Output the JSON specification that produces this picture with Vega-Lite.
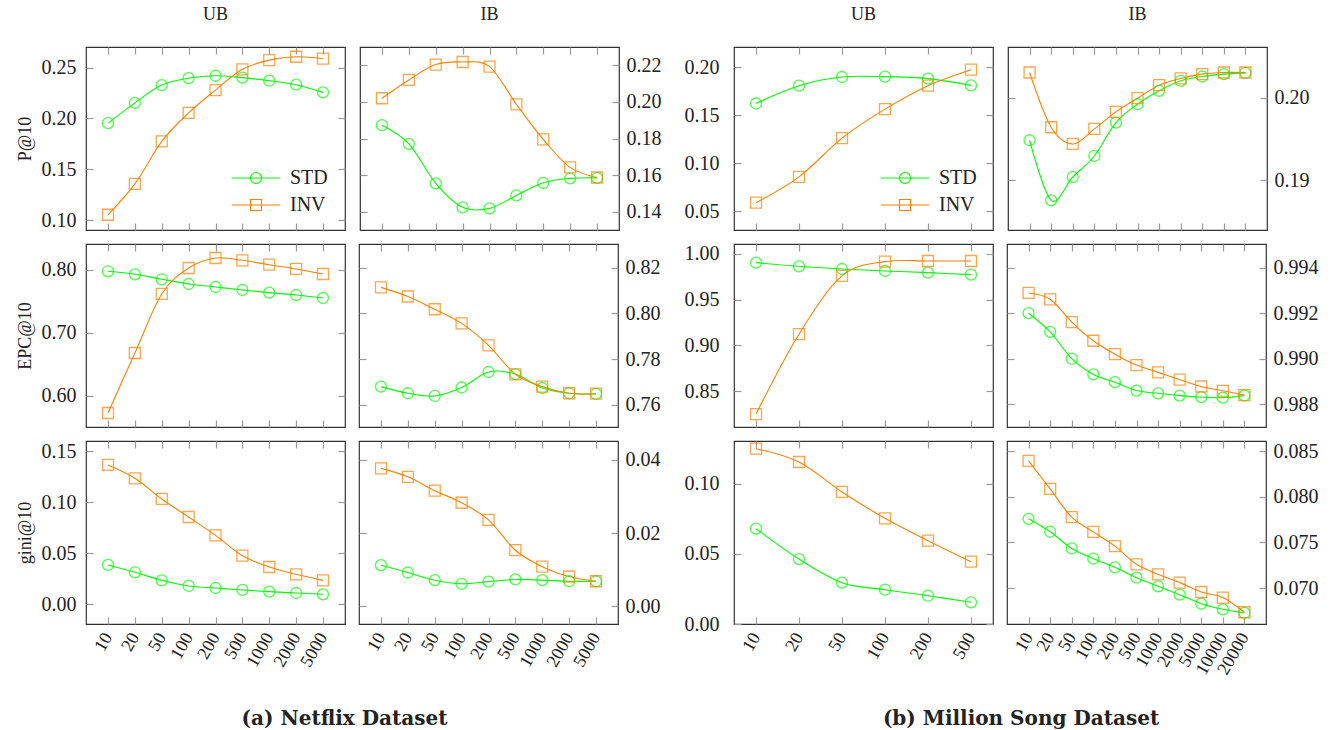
{
"$schema": "https://vega.github.io/schema/vega-lite/v6.json",
"padding": {"left": 15, "top": 5, "right": 5, "bottom": 5},
"config": {
 "font": "Liberation Serif",
 "view": {"stroke": "#333", "strokeWidth": 1.2},
 "axis": {"domain": false, "grid": false, "tickColor": "#9a9a9a", "tickWidth": 1.2, "tickSize": -7, "labelFont": "Liberation Serif", "labelFontSize": 20, "labelColor": "#222", "titleFont": "Liberation Serif", "titleFontSize": 18, "titleFontWeight": "normal", "titleColor": "#222", "titlePadding": 7},
 "axisLeft": {"labelPadding": 17},
 "axisRight": {"labelPadding": 14},
 "axisBottom": {"labelPadding": 17, "labelFontSize": 18},
 "title": {"font": "Liberation Serif", "fontSize": 18, "fontWeight": "normal", "color": "#222", "offset": 22},
 "legend": {"labelFont": "Liberation Serif", "labelFontSize": 20, "labelColor": "#222", "symbolSize": 121, "symbolStrokeWidth": 1.2, "symbolOpacity": 1, "labelOffset": 24, "rowPadding": 7, "padding": 0}
},
"datasets": {
 "nf_ub_p": [
  {"k":"10","s":"STD","v":0.1954},{"k":"20","s":"STD","v":0.2154},{"k":"50","s":"STD","v":0.2329},{"k":"100","s":"STD","v":0.2398},{"k":"200","s":"STD","v":0.2421},{"k":"500","s":"STD","v":0.2402},{"k":"1000","s":"STD","v":0.2372},{"k":"2000","s":"STD","v":0.2333},{"k":"5000","s":"STD","v":0.2257},
  {"k":"10","s":"INV","v":0.1052},{"k":"20","s":"INV","v":0.1356},{"k":"50","s":"INV","v":0.1774},{"k":"100","s":"INV","v":0.2056},{"k":"200","s":"INV","v":0.228},{"k":"500","s":"INV","v":0.2484},{"k":"1000","s":"INV","v":0.2575},{"k":"2000","s":"INV","v":0.2608},{"k":"5000","s":"INV","v":0.2589}],
 "nf_ib_p": [
  {"k":"10","s":"STD","v":0.1873},{"k":"20","s":"STD","v":0.1771},{"k":"50","s":"STD","v":0.1555},{"k":"100","s":"STD","v":0.1424},{"k":"200","s":"STD","v":0.1418},{"k":"500","s":"STD","v":0.1489},{"k":"1000","s":"STD","v":0.1558},{"k":"2000","s":"STD","v":0.1582},{"k":"5000","s":"STD","v":0.1585},
  {"k":"10","s":"INV","v":0.202},{"k":"20","s":"INV","v":0.212},{"k":"50","s":"INV","v":0.2204},{"k":"100","s":"INV","v":0.2218},{"k":"200","s":"INV","v":0.2193},{"k":"500","s":"INV","v":0.1987},{"k":"1000","s":"INV","v":0.1795},{"k":"2000","s":"INV","v":0.1642},{"k":"5000","s":"INV","v":0.1587}],
 "ms_ub_p": [
  {"k":"10","s":"STD","v":0.1621},{"k":"20","s":"STD","v":0.1806},{"k":"50","s":"STD","v":0.1896},{"k":"100","s":"STD","v":0.19},{"k":"200","s":"STD","v":0.1879},{"k":"500","s":"STD","v":0.1809},
  {"k":"10","s":"INV","v":0.059},{"k":"20","s":"INV","v":0.0858},{"k":"50","s":"INV","v":0.1261},{"k":"100","s":"INV","v":0.1562},{"k":"200","s":"INV","v":0.1806},{"k":"500","s":"INV","v":0.1972}],
 "ms_ib_p": [
  {"k":"10","s":"STD","v":0.19484},{"k":"20","s":"STD","v":0.18758},{"k":"50","s":"STD","v":0.1904},{"k":"100","s":"STD","v":0.19294},{"k":"200","s":"STD","v":0.19697},{"k":"500","s":"STD","v":0.19919},{"k":"1000","s":"STD","v":0.20081},{"k":"2000","s":"STD","v":0.20202},{"k":"5000","s":"STD","v":0.20254},{"k":"10000","s":"STD","v":0.20282},{"k":"20000","s":"STD","v":0.20298},
  {"k":"10","s":"INV","v":0.20302},{"k":"20","s":"INV","v":0.19641},{"k":"50","s":"INV","v":0.19439},{"k":"100","s":"INV","v":0.19621},{"k":"200","s":"INV","v":0.19827},{"k":"500","s":"INV","v":0.19992},{"k":"1000","s":"INV","v":0.20149},{"k":"2000","s":"INV","v":0.2023},{"k":"5000","s":"INV","v":0.20282},{"k":"10000","s":"INV","v":0.20302},{"k":"20000","s":"INV","v":0.20302}],
 "nf_ub_e": [
  {"k":"10","s":"STD","v":0.7974},{"k":"20","s":"STD","v":0.7926},{"k":"50","s":"STD","v":0.7847},{"k":"100","s":"STD","v":0.7772},{"k":"200","s":"STD","v":0.7725},{"k":"500","s":"STD","v":0.7677},{"k":"1000","s":"STD","v":0.7635},{"k":"2000","s":"STD","v":0.7598},{"k":"5000","s":"STD","v":0.755},
  {"k":"10","s":"INV","v":0.5725},{"k":"20","s":"INV","v":0.6677},{"k":"50","s":"INV","v":0.7614},{"k":"100","s":"INV","v":0.8026},{"k":"200","s":"INV","v":0.8185},{"k":"500","s":"INV","v":0.8148},{"k":"1000","s":"INV","v":0.8079},{"k":"2000","s":"INV","v":0.8011},{"k":"5000","s":"INV","v":0.7931}],
 "nf_ib_e": [
  {"k":"10","s":"STD","v":0.7679},{"k":"20","s":"STD","v":0.765},{"k":"50","s":"STD","v":0.7638},{"k":"100","s":"STD","v":0.7675},{"k":"200","s":"STD","v":0.7743},{"k":"500","s":"STD","v":0.7734},{"k":"1000","s":"STD","v":0.7673},{"k":"2000","s":"STD","v":0.765},{"k":"5000","s":"STD","v":0.7647},
  {"k":"10","s":"INV","v":0.8114},{"k":"20","s":"INV","v":0.8074},{"k":"50","s":"INV","v":0.8018},{"k":"100","s":"INV","v":0.7956},{"k":"200","s":"INV","v":0.786},{"k":"500","s":"INV","v":0.7733},{"k":"1000","s":"INV","v":0.7679},{"k":"2000","s":"INV","v":0.765},{"k":"5000","s":"INV","v":0.7648}],
 "ms_ub_e": [
  {"k":"10","s":"STD","v":0.9902},{"k":"20","s":"STD","v":0.9862},{"k":"50","s":"STD","v":0.9833},{"k":"100","s":"STD","v":0.9811},{"k":"200","s":"STD","v":0.9793},{"k":"500","s":"STD","v":0.9771},
  {"k":"10","s":"INV","v":0.8253},{"k":"20","s":"INV","v":0.9123},{"k":"50","s":"INV","v":0.9757},{"k":"100","s":"INV","v":0.9913},{"k":"200","s":"INV","v":0.992},{"k":"500","s":"INV","v":0.992}],
 "ms_ib_e": [
  {"k":"10","s":"STD","v":0.992},{"k":"20","s":"STD","v":0.99118},{"k":"50","s":"STD","v":0.99},{"k":"100","s":"STD","v":0.98931},{"k":"200","s":"STD","v":0.98897},{"k":"500","s":"STD","v":0.9886},{"k":"1000","s":"STD","v":0.98848},{"k":"2000","s":"STD","v":0.98838},{"k":"5000","s":"STD","v":0.98831},{"k":"10000","s":"STD","v":0.98829},{"k":"20000","s":"STD","v":0.98838},
  {"k":"10","s":"INV","v":0.99289},{"k":"20","s":"INV","v":0.99261},{"k":"50","s":"INV","v":0.99161},{"k":"100","s":"INV","v":0.99079},{"k":"200","s":"INV","v":0.9902},{"k":"500","s":"INV","v":0.98972},{"k":"1000","s":"INV","v":0.9894},{"k":"2000","s":"INV","v":0.98908},{"k":"5000","s":"INV","v":0.98878},{"k":"10000","s":"INV","v":0.98859},{"k":"20000","s":"INV","v":0.9884}],
 "nf_ub_g": [
  {"k":"10","s":"STD","v":0.0386},{"k":"20","s":"STD","v":0.0314},{"k":"50","s":"STD","v":0.0235},{"k":"100","s":"STD","v":0.018},{"k":"200","s":"STD","v":0.016},{"k":"500","s":"STD","v":0.0141},{"k":"1000","s":"STD","v":0.0124},{"k":"2000","s":"STD","v":0.0111},{"k":"5000","s":"STD","v":0.0098},
  {"k":"10","s":"INV","v":0.1366},{"k":"20","s":"INV","v":0.1235},{"k":"50","s":"INV","v":0.1033},{"k":"100","s":"INV","v":0.0856},{"k":"200","s":"INV","v":0.0676},{"k":"500","s":"INV","v":0.0477},{"k":"1000","s":"INV","v":0.0366},{"k":"2000","s":"INV","v":0.0294},{"k":"5000","s":"INV","v":0.0235}],
 "nf_ib_g": [
  {"k":"10","s":"STD","v":0.0112},{"k":"20","s":"STD","v":0.0092},{"k":"50","s":"STD","v":0.0071},{"k":"100","s":"STD","v":0.0061},{"k":"200","s":"STD","v":0.0067},{"k":"500","s":"STD","v":0.0073},{"k":"1000","s":"STD","v":0.0071},{"k":"2000","s":"STD","v":0.0068},{"k":"5000","s":"STD","v":0.0068},
  {"k":"10","s":"INV","v":0.0377},{"k":"20","s":"INV","v":0.0354},{"k":"50","s":"INV","v":0.0316},{"k":"100","s":"INV","v":0.0283},{"k":"200","s":"INV","v":0.0236},{"k":"500","s":"INV","v":0.0153},{"k":"1000","s":"INV","v":0.0108},{"k":"2000","s":"INV","v":0.0081},{"k":"5000","s":"INV","v":0.0068}],
 "ms_ub_g": [
  {"k":"10","s":"STD","v":0.0681},{"k":"20","s":"STD","v":0.0464},{"k":"50","s":"STD","v":0.0295},{"k":"100","s":"STD","v":0.0245},{"k":"200","s":"STD","v":0.0202},{"k":"500","s":"STD","v":0.0155},
  {"k":"10","s":"INV","v":0.1252},{"k":"20","s":"INV","v":0.1157},{"k":"50","s":"INV","v":0.0943},{"k":"100","s":"INV","v":0.0755},{"k":"200","s":"INV","v":0.0595},{"k":"500","s":"INV","v":0.0445}],
 "ms_ib_g": [
  {"k":"10","s":"STD","v":0.07759},{"k":"20","s":"STD","v":0.07617},{"k":"50","s":"STD","v":0.07434},{"k":"100","s":"STD","v":0.07322},{"k":"200","s":"STD","v":0.07227},{"k":"500","s":"STD","v":0.07113},{"k":"1000","s":"STD","v":0.07018},{"k":"2000","s":"STD","v":0.06927},{"k":"5000","s":"STD","v":0.06828},{"k":"10000","s":"STD","v":0.06766},{"k":"20000","s":"STD","v":0.06726},
  {"k":"10","s":"INV","v":0.08394},{"k":"20","s":"INV","v":0.08088},{"k":"50","s":"INV","v":0.07777},{"k":"100","s":"INV","v":0.07616},{"k":"200","s":"INV","v":0.0746},{"k":"500","s":"INV","v":0.0726},{"k":"1000","s":"INV","v":0.0715},{"k":"2000","s":"INV","v":0.07059},{"k":"5000","s":"INV","v":0.06956},{"k":"10000","s":"INV","v":0.06895},{"k":"20000","s":"INV","v":0.06734}]
},
"spacing": 21,
"resolve": {"scale": {"x": "independent", "y": "independent", "color": "independent", "shape": "independent"}, "legend": {"color": "independent", "shape": "independent"}},
"hconcat": [
 {
  "title": {"text": "(a) Netflix Dataset", "orient": "bottom", "anchor": "middle", "fontWeight": "bold", "font": "DejaVu Serif", "fontSize": 20, "offset": 39, "dx": 6},
  "spacing": 10,
  "resolve": {"scale": {"x": "independent", "y": "independent", "color": "independent", "shape": "independent"}, "legend": {"color": "independent", "shape": "independent"}},
  "vconcat": [
   {"spacing": 10,
    "resolve": {"scale": {"x": "independent", "y": "independent", "color": "independent", "shape": "independent"}, "legend": {"color": "independent", "shape": "independent"}},
    "hconcat": [
     {"width": 259, "height": 183, "title": "UB", "data": {"name": "nf_ub_p"},
      "resolve": {"scale": {"x": "independent", "y": "independent", "shape": "independent"}, "axis": {"x": "independent", "y": "independent"}, "legend": {"color": "independent", "shape": "independent"}},
      "layer": [
       {"mark": {"type": "line", "interpolate": "cardinal", "strokeWidth": 1.1},
        "encoding": {
         "x": {"field": "k", "type": "ordinal", "scale": {"type": "point", "domain": ["10","20","50","100","200","500","1000","2000","5000"], "padding": 0.8186}, "axis": {"orient": "bottom", "labels": false, "title": null}},
         "y": {"field": "v", "type": "quantitative", "scale": {"domain": [0.0902, 0.2704], "nice": false, "zero": false}, "axis": {"orient": "left", "values": [0.1, 0.15, 0.2, 0.25], "format": ".2f", "title": "P@10"}},
         "color": {"field": "s", "type": "nominal", "scale": {"domain": ["STD","INV"], "range": ["#00ff00","#ff8000"]}, "legend": null}}},
       {"mark": {"type": "point", "filled": false, "size": 121, "strokeWidth": 1.3},
        "encoding": {
         "x": {"field": "k", "type": "ordinal", "scale": {"type": "point", "domain": ["10","20","50","100","200","500","1000","2000","5000"], "padding": 0.8186}, "axis": null},
         "y": {"field": "v", "type": "quantitative", "scale": {"domain": [0.0902, 0.2704], "nice": false, "zero": false}, "axis": null},
         "color": {"field": "s", "type": "nominal", "scale": {"domain": ["STD","INV"], "range": ["#00ff00","#ff8000"]}, "legend": null},
         "shape": {"field": "s", "type": "nominal", "scale": {"domain": ["STD","INV"], "range": ["circle","square"]}, "legend": null}}},
       {"mark": {"type": "point", "opacity": 0},
        "encoding": {
         "x": {"field": "k", "type": "ordinal", "scale": {"type": "point", "domain": ["10","20","50","100","200","500","1000","2000","5000"], "padding": 0.8186}, "axis": {"orient": "top", "labels": false, "title": null}},
         "y": {"field": "v", "type": "quantitative", "scale": {"domain": [0.0902, 0.2704], "nice": false, "zero": false}, "axis": {"orient": "right", "labels": false, "values": [0.1, 0.15, 0.2, 0.25], "title": null}}}},
       {"mark": {"type": "point", "filled": false, "opacity": 0, "size": 121, "strokeWidth": 1.2},
        "encoding": {
         "x": {"field": "k", "type": "ordinal", "scale": {"type": "point", "domain": ["10","20","50","100","200","500","1000","2000","5000"], "padding": 0.8186}, "axis": null},
         "y": {"field": "v", "type": "quantitative", "scale": {"domain": [0.0902, 0.2704], "nice": false, "zero": false}, "axis": null},
         "color": {"field": "s", "type": "nominal", "scale": {"domain": ["STD","INV"], "range": ["#00ff00","#ff8000"]}, "legend": {"title": null, "orient": "none", "legendX": 160, "legendY": 121, "symbolOpacity": 1}},
         "shape": {"field": "s", "type": "nominal", "scale": {"domain": ["STD","INV"], "range": ["M-4.4,0L4.4,0M-1,0A1,1,0,1,0,1,0A1,1,0,1,0,-1,0", "M-4.4,0L4.4,0M-1,-1L1,-1L1,1L-1,1Z"]}, "legend": {"title": null, "orient": "none", "legendX": 160, "legendY": 121, "symbolOpacity": 1}}}}
      ]},
     {"width": 259, "height": 183, "title": "IB", "data": {"name": "nf_ib_p"},
      "resolve": {"scale": {"x": "independent", "y": "independent"}, "axis": {"x": "independent", "y": "independent"}},
      "layer": [
       {"mark": {"type": "line", "interpolate": "cardinal", "strokeWidth": 1.1},
        "encoding": {
         "x": {"field": "k", "type": "ordinal", "scale": {"type": "point", "domain": ["10","20","50","100","200","500","1000","2000","5000"], "padding": 0.8186}, "axis": {"orient": "bottom", "labels": false, "title": null}},
         "y": {"field": "v", "type": "quantitative", "scale": {"domain": [0.13, 0.23], "nice": false, "zero": false}, "axis": {"orient": "right", "values": [0.14, 0.16, 0.18, 0.2, 0.22], "format": ".2f", "title": null}},
         "color": {"field": "s", "type": "nominal", "scale": {"domain": ["STD","INV"], "range": ["#00ff00","#ff8000"]}, "legend": null}}},
       {"mark": {"type": "point", "filled": false, "size": 121, "strokeWidth": 1.3},
        "encoding": {
         "x": {"field": "k", "type": "ordinal", "scale": {"type": "point", "domain": ["10","20","50","100","200","500","1000","2000","5000"], "padding": 0.8186}, "axis": null},
         "y": {"field": "v", "type": "quantitative", "scale": {"domain": [0.13, 0.23], "nice": false, "zero": false}, "axis": null},
         "color": {"field": "s", "type": "nominal", "scale": {"domain": ["STD","INV"], "range": ["#00ff00","#ff8000"]}, "legend": null},
         "shape": {"field": "s", "type": "nominal", "scale": {"domain": ["STD","INV"], "range": ["circle","square"]}, "legend": null}}},
       {"mark": {"type": "point", "opacity": 0},
        "encoding": {
         "x": {"field": "k", "type": "ordinal", "scale": {"type": "point", "domain": ["10","20","50","100","200","500","1000","2000","5000"], "padding": 0.8186}, "axis": {"orient": "top", "labels": false, "title": null}},
         "y": {"field": "v", "type": "quantitative", "scale": {"domain": [0.13, 0.23], "nice": false, "zero": false}, "axis": {"orient": "left", "labels": false, "values": [0.14, 0.16, 0.18, 0.2, 0.22], "title": null}}}}
      ]}
    ]},
   {"spacing": 10,
    "resolve": {"scale": {"x": "independent", "y": "independent", "color": "independent", "shape": "independent"}, "legend": {"color": "independent", "shape": "independent"}},
    "hconcat": [
     {"width": 259, "height": 183, "data": {"name": "nf_ub_e"},
      "resolve": {"scale": {"x": "independent", "y": "independent"}, "axis": {"x": "independent", "y": "independent"}},
      "layer": [
       {"mark": {"type": "line", "interpolate": "cardinal", "strokeWidth": 1.1},
        "encoding": {
         "x": {"field": "k", "type": "ordinal", "scale": {"type": "point", "domain": ["10","20","50","100","200","500","1000","2000","5000"], "padding": 0.8186}, "axis": {"orient": "bottom", "labels": false, "title": null}},
         "y": {"field": "v", "type": "quantitative", "scale": {"domain": [0.5503, 0.8407], "nice": false, "zero": false}, "axis": {"orient": "left", "values": [0.6, 0.7, 0.8], "format": ".2f", "title": "EPC@10"}},
         "color": {"field": "s", "type": "nominal", "scale": {"domain": ["STD","INV"], "range": ["#00ff00","#ff8000"]}, "legend": null}}},
       {"mark": {"type": "point", "filled": false, "size": 121, "strokeWidth": 1.3},
        "encoding": {
         "x": {"field": "k", "type": "ordinal", "scale": {"type": "point", "domain": ["10","20","50","100","200","500","1000","2000","5000"], "padding": 0.8186}, "axis": null},
         "y": {"field": "v", "type": "quantitative", "scale": {"domain": [0.5503, 0.8407], "nice": false, "zero": false}, "axis": null},
         "color": {"field": "s", "type": "nominal", "scale": {"domain": ["STD","INV"], "range": ["#00ff00","#ff8000"]}, "legend": null},
         "shape": {"field": "s", "type": "nominal", "scale": {"domain": ["STD","INV"], "range": ["circle","square"]}, "legend": null}}},
       {"mark": {"type": "point", "opacity": 0},
        "encoding": {
         "x": {"field": "k", "type": "ordinal", "scale": {"type": "point", "domain": ["10","20","50","100","200","500","1000","2000","5000"], "padding": 0.8186}, "axis": {"orient": "top", "labels": false, "title": null}},
         "y": {"field": "v", "type": "quantitative", "scale": {"domain": [0.5503, 0.8407], "nice": false, "zero": false}, "axis": {"orient": "right", "labels": false, "values": [0.6, 0.7, 0.8], "title": null}}}}
      ]},
     {"width": 259, "height": 183, "data": {"name": "nf_ib_e"},
      "resolve": {"scale": {"x": "independent", "y": "independent"}, "axis": {"x": "independent", "y": "independent"}},
      "layer": [
       {"mark": {"type": "line", "interpolate": "cardinal", "strokeWidth": 1.1},
        "encoding": {
         "x": {"field": "k", "type": "ordinal", "scale": {"type": "point", "domain": ["10","20","50","100","200","500","1000","2000","5000"], "padding": 0.8186}, "axis": {"orient": "bottom", "labels": false, "title": null}},
         "y": {"field": "v", "type": "quantitative", "scale": {"domain": [0.7502, 0.8304], "nice": false, "zero": false}, "axis": {"orient": "right", "values": [0.76, 0.78, 0.8, 0.82], "format": ".2f", "title": null}},
         "color": {"field": "s", "type": "nominal", "scale": {"domain": ["STD","INV"], "range": ["#00ff00","#ff8000"]}, "legend": null}}},
       {"mark": {"type": "point", "filled": false, "size": 121, "strokeWidth": 1.3},
        "encoding": {
         "x": {"field": "k", "type": "ordinal", "scale": {"type": "point", "domain": ["10","20","50","100","200","500","1000","2000","5000"], "padding": 0.8186}, "axis": null},
         "y": {"field": "v", "type": "quantitative", "scale": {"domain": [0.7502, 0.8304], "nice": false, "zero": false}, "axis": null},
         "color": {"field": "s", "type": "nominal", "scale": {"domain": ["STD","INV"], "range": ["#00ff00","#ff8000"]}, "legend": null},
         "shape": {"field": "s", "type": "nominal", "scale": {"domain": ["STD","INV"], "range": ["circle","square"]}, "legend": null}}},
       {"mark": {"type": "point", "opacity": 0},
        "encoding": {
         "x": {"field": "k", "type": "ordinal", "scale": {"type": "point", "domain": ["10","20","50","100","200","500","1000","2000","5000"], "padding": 0.8186}, "axis": {"orient": "top", "labels": false, "title": null}},
         "y": {"field": "v", "type": "quantitative", "scale": {"domain": [0.7502, 0.8304], "nice": false, "zero": false}, "axis": {"orient": "left", "labels": false, "values": [0.76, 0.78, 0.8, 0.82], "title": null}}}}
      ]}
    ]},
   {"spacing": 10,
    "resolve": {"scale": {"x": "independent", "y": "independent", "color": "independent", "shape": "independent"}, "legend": {"color": "independent", "shape": "independent"}},
    "hconcat": [
     {"width": 259, "height": 183, "data": {"name": "nf_ub_g"},
      "resolve": {"scale": {"x": "independent", "y": "independent"}, "axis": {"x": "independent", "y": "independent"}},
      "layer": [
       {"mark": {"type": "line", "interpolate": "cardinal", "strokeWidth": 1.1},
        "encoding": {
         "x": {"field": "k", "type": "ordinal", "scale": {"type": "point", "domain": ["10","20","50","100","200","500","1000","2000","5000"], "padding": 0.8186}, "axis": {"orient": "bottom", "labelAngle": -60, "title": null}},
         "y": {"field": "v", "type": "quantitative", "scale": {"domain": [-0.0193, 0.1601], "nice": false, "zero": false}, "axis": {"orient": "left", "values": [0, 0.05, 0.1, 0.15], "format": ".2f", "title": "gini@10"}},
         "color": {"field": "s", "type": "nominal", "scale": {"domain": ["STD","INV"], "range": ["#00ff00","#ff8000"]}, "legend": null}}},
       {"mark": {"type": "point", "filled": false, "size": 121, "strokeWidth": 1.3},
        "encoding": {
         "x": {"field": "k", "type": "ordinal", "scale": {"type": "point", "domain": ["10","20","50","100","200","500","1000","2000","5000"], "padding": 0.8186}, "axis": null},
         "y": {"field": "v", "type": "quantitative", "scale": {"domain": [-0.0193, 0.1601], "nice": false, "zero": false}, "axis": null},
         "color": {"field": "s", "type": "nominal", "scale": {"domain": ["STD","INV"], "range": ["#00ff00","#ff8000"]}, "legend": null},
         "shape": {"field": "s", "type": "nominal", "scale": {"domain": ["STD","INV"], "range": ["circle","square"]}, "legend": null}}},
       {"mark": {"type": "point", "opacity": 0},
        "encoding": {
         "x": {"field": "k", "type": "ordinal", "scale": {"type": "point", "domain": ["10","20","50","100","200","500","1000","2000","5000"], "padding": 0.8186}, "axis": {"orient": "top", "labels": false, "title": null}},
         "y": {"field": "v", "type": "quantitative", "scale": {"domain": [-0.0193, 0.1601], "nice": false, "zero": false}, "axis": {"orient": "right", "labels": false, "values": [0, 0.05, 0.1, 0.15], "title": null}}}}
      ]},
     {"width": 259, "height": 183, "data": {"name": "nf_ib_g"},
      "resolve": {"scale": {"x": "independent", "y": "independent"}, "axis": {"x": "independent", "y": "independent"}},
      "layer": [
       {"mark": {"type": "line", "interpolate": "cardinal", "strokeWidth": 1.1},
        "encoding": {
         "x": {"field": "k", "type": "ordinal", "scale": {"type": "point", "domain": ["10","20","50","100","200","500","1000","2000","5000"], "padding": 0.8186}, "axis": {"orient": "bottom", "labelAngle": -60, "title": null}},
         "y": {"field": "v", "type": "quantitative", "scale": {"domain": [-0.0049, 0.0452], "nice": false, "zero": false}, "axis": {"orient": "right", "values": [0, 0.02, 0.04], "format": ".2f", "title": null}},
         "color": {"field": "s", "type": "nominal", "scale": {"domain": ["STD","INV"], "range": ["#00ff00","#ff8000"]}, "legend": null}}},
       {"mark": {"type": "point", "filled": false, "size": 121, "strokeWidth": 1.3},
        "encoding": {
         "x": {"field": "k", "type": "ordinal", "scale": {"type": "point", "domain": ["10","20","50","100","200","500","1000","2000","5000"], "padding": 0.8186}, "axis": null},
         "y": {"field": "v", "type": "quantitative", "scale": {"domain": [-0.0049, 0.0452], "nice": false, "zero": false}, "axis": null},
         "color": {"field": "s", "type": "nominal", "scale": {"domain": ["STD","INV"], "range": ["#00ff00","#ff8000"]}, "legend": null},
         "shape": {"field": "s", "type": "nominal", "scale": {"domain": ["STD","INV"], "range": ["circle","square"]}, "legend": null}}},
       {"mark": {"type": "point", "opacity": 0},
        "encoding": {
         "x": {"field": "k", "type": "ordinal", "scale": {"type": "point", "domain": ["10","20","50","100","200","500","1000","2000","5000"], "padding": 0.8186}, "axis": {"orient": "top", "labels": false, "title": null}},
         "y": {"field": "v", "type": "quantitative", "scale": {"domain": [-0.0049, 0.0452], "nice": false, "zero": false}, "axis": {"orient": "left", "labels": false, "values": [0, 0.02, 0.04], "title": null}}}}
      ]}
    ]}
  ]
 },
 {
  "title": {"text": "(b) Million Song Dataset", "orient": "bottom", "anchor": "middle", "fontWeight": "bold", "font": "DejaVu Serif", "fontSize": 20, "offset": 31, "dx": 20},
  "spacing": 10,
  "resolve": {"scale": {"x": "independent", "y": "independent", "color": "independent", "shape": "independent"}, "legend": {"color": "independent", "shape": "independent"}},
  "vconcat": [
   {"spacing": 10,
    "resolve": {"scale": {"x": "independent", "y": "independent", "color": "independent", "shape": "independent"}, "legend": {"color": "independent", "shape": "independent"}},
    "hconcat": [
     {"width": 259, "height": 183, "title": "UB", "data": {"name": "ms_ub_p"},
      "resolve": {"scale": {"x": "independent", "y": "independent", "shape": "independent"}, "axis": {"x": "independent", "y": "independent"}, "legend": {"color": "independent", "shape": "independent"}},
      "layer": [
       {"mark": {"type": "line", "interpolate": "cardinal", "strokeWidth": 1.1},
        "encoding": {
         "x": {"field": "k", "type": "ordinal", "scale": {"type": "point", "domain": ["10","20","50","100","200","500"], "padding": 0.5116}, "axis": {"orient": "bottom", "labels": false, "title": null}},
         "y": {"field": "v", "type": "quantitative", "scale": {"domain": [0.0306, 0.2208], "nice": false, "zero": false}, "axis": {"orient": "left", "values": [0.05, 0.1, 0.15, 0.2], "format": ".2f", "title": null, "labelPadding": 22}},
         "color": {"field": "s", "type": "nominal", "scale": {"domain": ["STD","INV"], "range": ["#00ff00","#ff8000"]}, "legend": null}}},
       {"mark": {"type": "point", "filled": false, "size": 121, "strokeWidth": 1.3},
        "encoding": {
         "x": {"field": "k", "type": "ordinal", "scale": {"type": "point", "domain": ["10","20","50","100","200","500"], "padding": 0.5116}, "axis": null},
         "y": {"field": "v", "type": "quantitative", "scale": {"domain": [0.0306, 0.2208], "nice": false, "zero": false}, "axis": null},
         "color": {"field": "s", "type": "nominal", "scale": {"domain": ["STD","INV"], "range": ["#00ff00","#ff8000"]}, "legend": null},
         "shape": {"field": "s", "type": "nominal", "scale": {"domain": ["STD","INV"], "range": ["circle","square"]}, "legend": null}}},
       {"mark": {"type": "point", "opacity": 0},
        "encoding": {
         "x": {"field": "k", "type": "ordinal", "scale": {"type": "point", "domain": ["10","20","50","100","200","500"], "padding": 0.5116}, "axis": {"orient": "top", "labels": false, "title": null}},
         "y": {"field": "v", "type": "quantitative", "scale": {"domain": [0.0306, 0.2208], "nice": false, "zero": false}, "axis": {"orient": "right", "labels": false, "values": [0.05, 0.1, 0.15, 0.2], "title": null}}}},
       {"mark": {"type": "point", "filled": false, "opacity": 0, "size": 121, "strokeWidth": 1.2},
        "encoding": {
         "x": {"field": "k", "type": "ordinal", "scale": {"type": "point", "domain": ["10","20","50","100","200","500"], "padding": 0.5116}, "axis": null},
         "y": {"field": "v", "type": "quantitative", "scale": {"domain": [0.0306, 0.2208], "nice": false, "zero": false}, "axis": null},
         "color": {"field": "s", "type": "nominal", "scale": {"domain": ["STD","INV"], "range": ["#00ff00","#ff8000"]}, "legend": {"title": null, "orient": "none", "legendX": 161, "legendY": 121, "symbolOpacity": 1}},
         "shape": {"field": "s", "type": "nominal", "scale": {"domain": ["STD","INV"], "range": ["M-4.4,0L4.4,0M-1,0A1,1,0,1,0,1,0A1,1,0,1,0,-1,0", "M-4.4,0L4.4,0M-1,-1L1,-1L1,1L-1,1Z"]}, "legend": {"title": null, "orient": "none", "legendX": 161, "legendY": 121, "symbolOpacity": 1}}}}
      ]},
     {"width": 259, "height": 183, "title": "IB", "data": {"name": "ms_ib_p"},
      "resolve": {"scale": {"x": "independent", "y": "independent"}, "axis": {"x": "independent", "y": "independent"}},
      "layer": [
       {"mark": {"type": "line", "interpolate": "cardinal", "strokeWidth": 1.1},
        "encoding": {
         "x": {"field": "k", "type": "ordinal", "scale": {"type": "point", "domain": ["10","20","50","100","200","500","1000","2000","5000","10000","20000"], "padding": 1.0233}, "axis": {"orient": "bottom", "labels": false, "title": null}},
         "y": {"field": "v", "type": "quantitative", "scale": {"domain": [0.184, 0.2061], "nice": false, "zero": false}, "axis": {"orient": "right", "values": [0.19, 0.2], "format": ".2f", "title": null}},
         "color": {"field": "s", "type": "nominal", "scale": {"domain": ["STD","INV"], "range": ["#00ff00","#ff8000"]}, "legend": null}}},
       {"mark": {"type": "point", "filled": false, "size": 121, "strokeWidth": 1.3},
        "encoding": {
         "x": {"field": "k", "type": "ordinal", "scale": {"type": "point", "domain": ["10","20","50","100","200","500","1000","2000","5000","10000","20000"], "padding": 1.0233}, "axis": null},
         "y": {"field": "v", "type": "quantitative", "scale": {"domain": [0.184, 0.2061], "nice": false, "zero": false}, "axis": null},
         "color": {"field": "s", "type": "nominal", "scale": {"domain": ["STD","INV"], "range": ["#00ff00","#ff8000"]}, "legend": null},
         "shape": {"field": "s", "type": "nominal", "scale": {"domain": ["STD","INV"], "range": ["circle","square"]}, "legend": null}}},
       {"mark": {"type": "point", "opacity": 0},
        "encoding": {
         "x": {"field": "k", "type": "ordinal", "scale": {"type": "point", "domain": ["10","20","50","100","200","500","1000","2000","5000","10000","20000"], "padding": 1.0233}, "axis": {"orient": "top", "labels": false, "title": null}},
         "y": {"field": "v", "type": "quantitative", "scale": {"domain": [0.184, 0.2061], "nice": false, "zero": false}, "axis": {"orient": "left", "labels": false, "values": [0.19, 0.2], "title": null}}}}
      ]}
    ]},
   {"spacing": 10,
    "resolve": {"scale": {"x": "independent", "y": "independent", "color": "independent", "shape": "independent"}, "legend": {"color": "independent", "shape": "independent"}},
    "hconcat": [
     {"width": 259, "height": 183, "data": {"name": "ms_ub_e"},
      "resolve": {"scale": {"x": "independent", "y": "independent"}, "axis": {"x": "independent", "y": "independent"}},
      "layer": [
       {"mark": {"type": "line", "interpolate": "cardinal", "strokeWidth": 1.1},
        "encoding": {
         "x": {"field": "k", "type": "ordinal", "scale": {"type": "point", "domain": ["10","20","50","100","200","500"], "padding": 0.5116}, "axis": {"orient": "bottom", "labels": false, "title": null}},
         "y": {"field": "v", "type": "quantitative", "scale": {"domain": [0.8112, 1.0105], "nice": false, "zero": false}, "axis": {"orient": "left", "values": [0.85, 0.9, 0.95, 1.0], "format": ".2f", "title": null, "labelPadding": 22}},
         "color": {"field": "s", "type": "nominal", "scale": {"domain": ["STD","INV"], "range": ["#00ff00","#ff8000"]}, "legend": null}}},
       {"mark": {"type": "point", "filled": false, "size": 121, "strokeWidth": 1.3},
        "encoding": {
         "x": {"field": "k", "type": "ordinal", "scale": {"type": "point", "domain": ["10","20","50","100","200","500"], "padding": 0.5116}, "axis": null},
         "y": {"field": "v", "type": "quantitative", "scale": {"domain": [0.8112, 1.0105], "nice": false, "zero": false}, "axis": null},
         "color": {"field": "s", "type": "nominal", "scale": {"domain": ["STD","INV"], "range": ["#00ff00","#ff8000"]}, "legend": null},
         "shape": {"field": "s", "type": "nominal", "scale": {"domain": ["STD","INV"], "range": ["circle","square"]}, "legend": null}}},
       {"mark": {"type": "point", "opacity": 0},
        "encoding": {
         "x": {"field": "k", "type": "ordinal", "scale": {"type": "point", "domain": ["10","20","50","100","200","500"], "padding": 0.5116}, "axis": {"orient": "top", "labels": false, "title": null}},
         "y": {"field": "v", "type": "quantitative", "scale": {"domain": [0.8112, 1.0105], "nice": false, "zero": false}, "axis": {"orient": "right", "labels": false, "values": [0.85, 0.9, 0.95, 1.0], "title": null}}}}
      ]},
     {"width": 259, "height": 183, "data": {"name": "ms_ib_e"},
      "resolve": {"scale": {"x": "independent", "y": "independent"}, "axis": {"x": "independent", "y": "independent"}},
      "layer": [
       {"mark": {"type": "line", "interpolate": "cardinal", "strokeWidth": 1.1},
        "encoding": {
         "x": {"field": "k", "type": "ordinal", "scale": {"type": "point", "domain": ["10","20","50","100","200","500","1000","2000","5000","10000","20000"], "padding": 1.0233}, "axis": {"orient": "bottom", "labels": false, "title": null}},
         "y": {"field": "v", "type": "quantitative", "scale": {"domain": [0.987, 0.99504], "nice": false, "zero": false}, "axis": {"orient": "right", "values": [0.988, 0.99, 0.992, 0.994], "format": ".3f", "title": null}},
         "color": {"field": "s", "type": "nominal", "scale": {"domain": ["STD","INV"], "range": ["#00ff00","#ff8000"]}, "legend": null}}},
       {"mark": {"type": "point", "filled": false, "size": 121, "strokeWidth": 1.3},
        "encoding": {
         "x": {"field": "k", "type": "ordinal", "scale": {"type": "point", "domain": ["10","20","50","100","200","500","1000","2000","5000","10000","20000"], "padding": 1.0233}, "axis": null},
         "y": {"field": "v", "type": "quantitative", "scale": {"domain": [0.987, 0.99504], "nice": false, "zero": false}, "axis": null},
         "color": {"field": "s", "type": "nominal", "scale": {"domain": ["STD","INV"], "range": ["#00ff00","#ff8000"]}, "legend": null},
         "shape": {"field": "s", "type": "nominal", "scale": {"domain": ["STD","INV"], "range": ["circle","square"]}, "legend": null}}},
       {"mark": {"type": "point", "opacity": 0},
        "encoding": {
         "x": {"field": "k", "type": "ordinal", "scale": {"type": "point", "domain": ["10","20","50","100","200","500","1000","2000","5000","10000","20000"], "padding": 1.0233}, "axis": {"orient": "top", "labels": false, "title": null}},
         "y": {"field": "v", "type": "quantitative", "scale": {"domain": [0.987, 0.99504], "nice": false, "zero": false}, "axis": {"orient": "left", "labels": false, "values": [0.988, 0.99, 0.992, 0.994], "title": null}}}}
      ]}
    ]},
   {"spacing": 10,
    "resolve": {"scale": {"x": "independent", "y": "independent", "color": "independent", "shape": "independent"}, "legend": {"color": "independent", "shape": "independent"}},
    "hconcat": [
     {"width": 259, "height": 183, "data": {"name": "ms_ub_g"},
      "resolve": {"scale": {"x": "independent", "y": "independent"}, "axis": {"x": "independent", "y": "independent"}},
      "layer": [
       {"mark": {"type": "line", "interpolate": "cardinal", "strokeWidth": 1.1},
        "encoding": {
         "x": {"field": "k", "type": "ordinal", "scale": {"type": "point", "domain": ["10","20","50","100","200","500"], "padding": 0.5116}, "axis": {"orient": "bottom", "labelAngle": -60, "title": null}},
         "y": {"field": "v", "type": "quantitative", "scale": {"domain": [0, 0.1307], "nice": false, "zero": false}, "axis": {"orient": "left", "values": [0, 0.05, 0.1], "format": ".2f", "title": null, "labelPadding": 22}},
         "color": {"field": "s", "type": "nominal", "scale": {"domain": ["STD","INV"], "range": ["#00ff00","#ff8000"]}, "legend": null}}},
       {"mark": {"type": "point", "filled": false, "size": 121, "strokeWidth": 1.3},
        "encoding": {
         "x": {"field": "k", "type": "ordinal", "scale": {"type": "point", "domain": ["10","20","50","100","200","500"], "padding": 0.5116}, "axis": null},
         "y": {"field": "v", "type": "quantitative", "scale": {"domain": [0, 0.1307], "nice": false, "zero": false}, "axis": null},
         "color": {"field": "s", "type": "nominal", "scale": {"domain": ["STD","INV"], "range": ["#00ff00","#ff8000"]}, "legend": null},
         "shape": {"field": "s", "type": "nominal", "scale": {"domain": ["STD","INV"], "range": ["circle","square"]}, "legend": null}}},
       {"mark": {"type": "point", "opacity": 0},
        "encoding": {
         "x": {"field": "k", "type": "ordinal", "scale": {"type": "point", "domain": ["10","20","50","100","200","500"], "padding": 0.5116}, "axis": {"orient": "top", "labels": false, "title": null}},
         "y": {"field": "v", "type": "quantitative", "scale": {"domain": [0, 0.1307], "nice": false, "zero": false}, "axis": {"orient": "right", "labels": false, "values": [0, 0.05, 0.1], "title": null}}}}
      ]},
     {"width": 259, "height": 183, "data": {"name": "ms_ib_g"},
      "resolve": {"scale": {"x": "independent", "y": "independent"}, "axis": {"x": "independent", "y": "independent"}},
      "layer": [
       {"mark": {"type": "line", "interpolate": "cardinal", "strokeWidth": 1.1},
        "encoding": {
         "x": {"field": "k", "type": "ordinal", "scale": {"type": "point", "domain": ["10","20","50","100","200","500","1000","2000","5000","10000","20000"], "padding": 1.0233}, "axis": {"orient": "bottom", "labelAngle": -60, "title": null}},
         "y": {"field": "v", "type": "quantitative", "scale": {"domain": [0.06605, 0.08613], "nice": false, "zero": false}, "axis": {"orient": "right", "values": [0.07, 0.075, 0.08, 0.085], "format": ".3f", "title": null}},
         "color": {"field": "s", "type": "nominal", "scale": {"domain": ["STD","INV"], "range": ["#00ff00","#ff8000"]}, "legend": null}}},
       {"mark": {"type": "point", "filled": false, "size": 121, "strokeWidth": 1.3},
        "encoding": {
         "x": {"field": "k", "type": "ordinal", "scale": {"type": "point", "domain": ["10","20","50","100","200","500","1000","2000","5000","10000","20000"], "padding": 1.0233}, "axis": null},
         "y": {"field": "v", "type": "quantitative", "scale": {"domain": [0.06605, 0.08613], "nice": false, "zero": false}, "axis": null},
         "color": {"field": "s", "type": "nominal", "scale": {"domain": ["STD","INV"], "range": ["#00ff00","#ff8000"]}, "legend": null},
         "shape": {"field": "s", "type": "nominal", "scale": {"domain": ["STD","INV"], "range": ["circle","square"]}, "legend": null}}},
       {"mark": {"type": "point", "opacity": 0},
        "encoding": {
         "x": {"field": "k", "type": "ordinal", "scale": {"type": "point", "domain": ["10","20","50","100","200","500","1000","2000","5000","10000","20000"], "padding": 1.0233}, "axis": {"orient": "top", "labels": false, "title": null}},
         "y": {"field": "v", "type": "quantitative", "scale": {"domain": [0.06605, 0.08613], "nice": false, "zero": false}, "axis": {"orient": "left", "labels": false, "values": [0.07, 0.075, 0.08, 0.085], "title": null}}}}
      ]}
    ]}
  ]
 }
]
}
